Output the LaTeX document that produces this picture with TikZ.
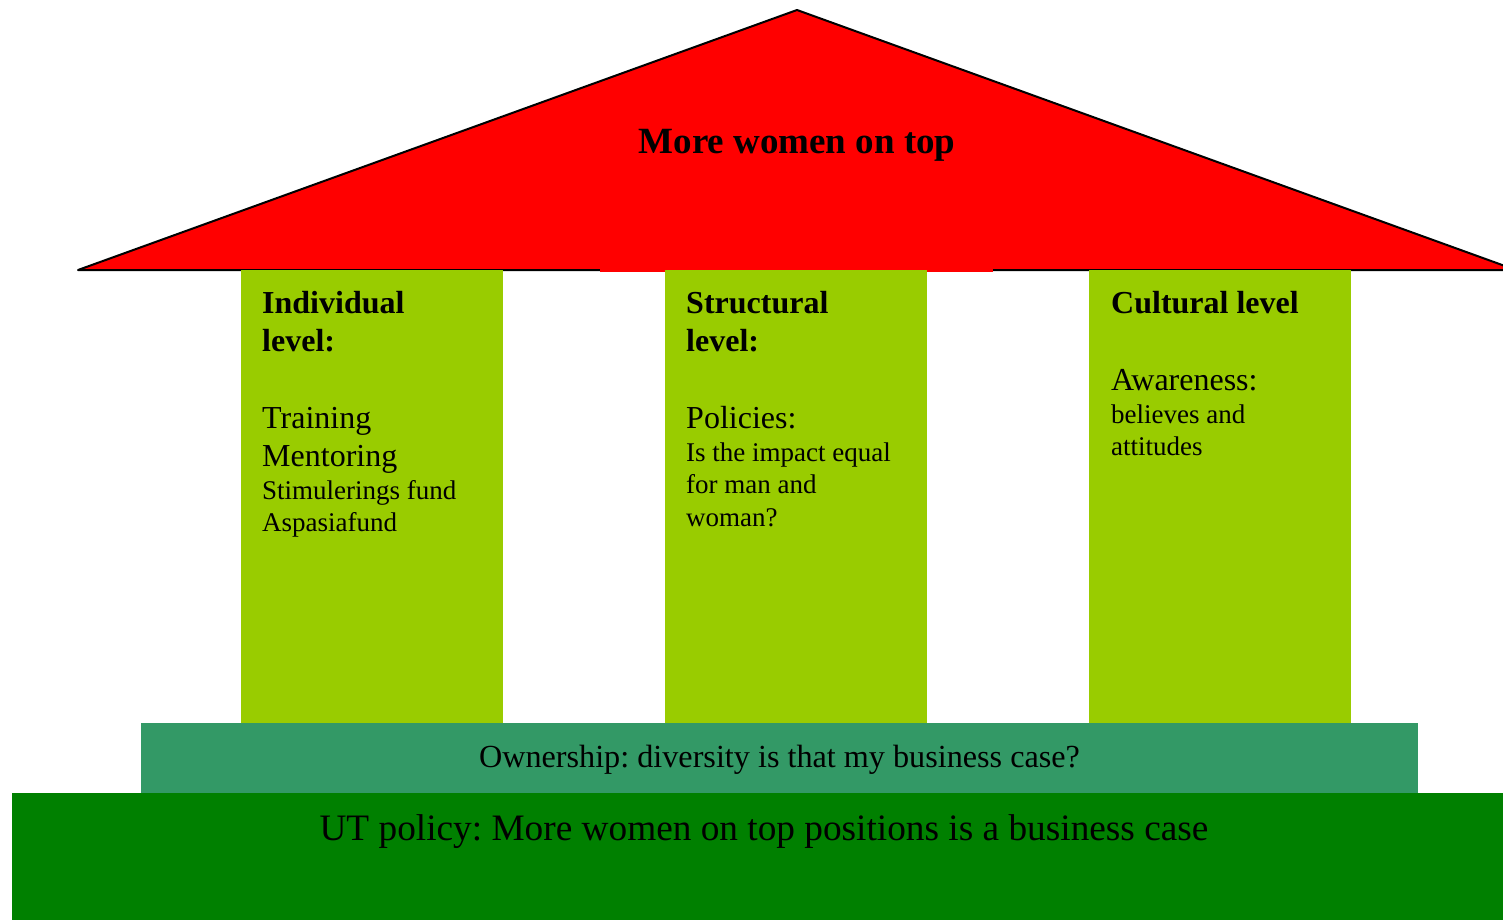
\documentclass[tikz,border=0pt]{standalone}
\usepackage{fontspec}
\setmainfont{Liberation Serif}
\usepackage{xcolor}
\usepackage{tikz}
\frenchspacing

\definecolor{roofred}{HTML}{FF0000}
\definecolor{pillargreen}{HTML}{99CC00}
\definecolor{baseteal}{HTML}{339966}
\definecolor{groundgreen}{HTML}{008000}

% font sizes for the pillar texts (spaceskip reset so the spaces follow the font)
\newcommand{\pillarhead}{\fontsize{32}{38}\selectfont\bfseries\spaceskip=0pt\xspaceskip=0pt\relax}
\newcommand{\pillarbody}{\fontsize{32}{38}\selectfont\mdseries}
\newcommand{\pillarsmall}{\fontsize{27}{32.3}\selectfont\mdseries}

\begin{document}
\begin{tikzpicture}[
  x=1pt, y=-1pt,
  pillar/.style={fill=pillargreen, inner sep=0pt, anchor=north west,
    minimum width=262pt, minimum height=453.5pt},
  pillartext/.style={anchor=north west, inner sep=0pt,
    text width=225pt, align=left}
]
\useasboundingbox (0,0) rectangle (1503,920);

% Ground and base
\node[fill=groundgreen, inner sep=0pt, anchor=north west,
  minimum width=1491pt, minimum height=127pt] (ground) at (12,793) {};
\node[fill=baseteal, inner sep=0pt, anchor=north west,
  minimum width=1277pt, minimum height=70pt] (base) at (141,723) {};

% Roof
\draw[fill=roofred, line width=2pt, line join=round]
  (78,270) -- (797,10) -- (1516,270) -- cycle;
\fill[roofred] (600,120) rectangle (993,272);

% Pillars
\node[pillar] (individual) at (241,269.5) {};
\node[pillar] (structural) at (665,269.5) {};
\node[pillar] (cultural) at (1089,269.5) {};

% Texts
\node[anchor=base, font=\fontsize{37}{44}\selectfont\bfseries] (title)
  at (797,154) {More women on top};

\node[pillartext] (individualtxt) at (262,286.4)
{\pillarhead\strut Individual\\ level:\par\vspace{39pt}
 \pillarbody Training\\ Mentoring\par\vspace{1pt}
 \pillarsmall Stimulerings fund\\ Aspasiafund\par};

\node[pillartext] (structuraltxt) at (686,286.4)
{\pillarhead\strut Structural\\ level:\par\vspace{39pt}
 \pillarbody Policies:\par\vspace{1pt}
 \pillarsmall Is the impact equal\\ for man and\\ woman?\par};

\node[pillartext] (culturaltxt) at (1111,286.4)
{\pillarhead\strut Cultural level\par\vspace{39pt}
 \pillarbody Awareness:\par\vspace{1pt}
 \pillarsmall believes and\\ attitudes\par};

\node[anchor=base, font=\fontsize{32.2}{38}\selectfont] (ownership)
  at (779.5,767) {Ownership: diversity is that my business case?};
\node[anchor=base, font=\fontsize{37.3}{44}\selectfont] (policy)
  at (764,840) {UT policy: More women on top positions is a business case};

\end{tikzpicture}
\end{document}
